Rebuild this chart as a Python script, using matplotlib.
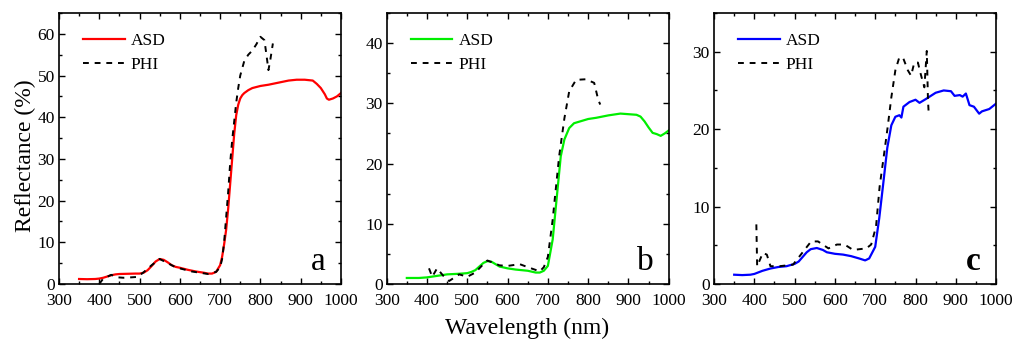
import numpy as np
import matplotlib
matplotlib.use("Agg")
import matplotlib.pyplot as plt
from matplotlib.ticker import MultipleLocator

plt.rcParams["font.family"] = ["Liberation Serif", "DejaVu Serif"]

# ─── data ────────────────────────────────────────────────────────────────────
asd_a_wl = [350, 370, 390, 400, 410, 420, 430, 440, 450, 470, 490, 500, 510, 520,
            530, 540, 550, 560, 570, 580, 590, 600, 620, 640, 660, 670, 680, 690,
            700, 705, 710, 715, 720, 725, 730, 735, 740, 745, 750, 755, 760, 770,
            780, 800, 820, 850, 870, 890, 910, 930, 940, 950, 960, 965, 970, 980,
            990, 1000]
asd_a = [1.2, 1.15, 1.2, 1.3, 1.5, 1.8, 2.1, 2.3, 2.4, 2.45, 2.5, 2.5, 2.7, 3.3,
         4.3, 5.4, 6.0, 5.8, 5.2, 4.5, 4.1, 3.9, 3.4, 3.0, 2.7, 2.5, 2.5, 2.9,
         4.5, 6.5, 9.5, 13.0, 18.0, 24.0, 30.0, 36.0, 40.5, 43.0, 44.5, 45.3, 45.8, 46.5,
         47.0, 47.5, 47.8, 48.4, 48.8, 49.0, 49.0, 48.8, 48.0, 47.0, 45.5, 44.5, 44.2, 44.5,
         45.0, 45.8]
phi_a_wl = [400, 410, 430, 445, 460, 480, 495, 510, 530, 550, 570, 590, 610, 630,
            650, 670, 690, 700, 705, 710, 715, 720, 725, 730, 735, 740, 745, 750,
            760, 770, 780, 790, 800, 810, 815, 820, 825, 831]
phi_a = [0.0, 1.3, 2.2, 1.6, 1.5, 1.6, 1.7, 2.8, 4.5, 6.0, 5.0, 4.0, 3.5, 3.0,
         2.7, 2.4, 2.9, 4.0, 6.0, 10.0, 16.0, 22.0, 29.0, 34.5, 39.0, 43.5, 47.0, 50.0,
         53.5, 55.0, 56.0, 57.5, 59.3, 58.5, 55.0, 51.3, 54.0, 57.7]

asd_b_wl = [350, 380, 400, 420, 450, 480, 500, 510, 520, 530, 540, 550, 560, 570,
            580, 600, 620, 650, 670, 680, 690, 700, 712, 724, 732, 741, 753, 765,
            780, 800, 820, 850, 880, 900, 920, 930, 940, 950, 960, 970, 980, 990, 1000]
asd_b = [1.0, 1.0, 1.1, 1.3, 1.6, 1.7, 1.8, 2.0, 2.3, 2.9, 3.5, 3.8, 3.7, 3.3,
         2.9, 2.6, 2.4, 2.2, 1.9, 1.9, 2.2, 3.0, 7.4, 15.7, 21.2, 24.0, 25.9, 26.7,
         27.0, 27.4, 27.6, 28.0, 28.3, 28.2, 28.1, 27.8, 27.0, 26.0, 25.1, 24.9, 24.6, 25.0, 25.5]
phi_b_wl = [405, 413, 425, 440, 455, 480, 500, 520, 540, 550, 580, 600, 630, 650,
            680, 690, 700, 712, 720, 728, 741, 753, 770, 794, 815, 825, 830]
phi_b = [2.6, 1.2, 2.6, 1.4, 0.5, 1.6, 1.2, 1.9, 3.3, 3.9, 3.1, 3.0, 3.3, 2.8,
         2.1, 2.8, 4.5, 10.7, 16.0, 21.2, 27.5, 32.0, 33.9, 34.0, 33.4, 30.6, 29.8]

asd_c_wl = [350, 370, 390, 400, 420, 440, 460, 480, 500, 510, 520, 530, 540, 555,
            570, 580, 600, 620, 640, 660, 675, 685, 692, 700, 710, 720, 730, 740,
            750, 760, 765, 770, 785, 800, 810, 826, 850, 870, 888, 897, 910, 917,
            925, 934, 945, 958, 965, 971, 983, 1000]
asd_c = [1.2, 1.15, 1.2, 1.3, 1.7, 2.0, 2.2, 2.3, 2.6, 2.9, 3.5, 4.1, 4.5, 4.65,
         4.4, 4.1, 3.9, 3.8, 3.6, 3.3, 3.05, 3.3, 4.0, 4.8, 8.5, 13.0, 17.6, 20.5,
         21.6, 21.8, 21.5, 22.9, 23.5, 23.8, 23.4, 23.9, 24.7, 25.0, 24.9, 24.3, 24.4, 24.2,
         24.6, 23.1, 22.9, 22.0, 22.3, 22.4, 22.6, 23.3]
phi_c_wl = [405, 407, 421, 431, 440, 463, 496, 508, 541, 558, 584, 605, 624, 645,
            678, 690, 702, 711, 721, 731, 740, 750, 760, 770, 781, 789, 797, 806,
            812, 822, 828, 831, 833]
phi_c = [7.7, 2.3, 4.0, 3.8, 2.3, 2.3, 2.5, 3.3, 5.5, 5.5, 4.6, 5.1, 5.1, 4.4,
         4.6, 5.1, 7.4, 12.6, 16.4, 20.3, 24.1, 27.6, 29.3, 29.1, 27.6, 26.9, 28.6, 28.6,
         27.3, 25.4, 30.1, 23.7, 21.8]

panels = [
    ("a", asd_a_wl, asd_a, phi_a_wl, phi_a, "#ff0000", 65, "normal"),
    ("b", asd_b_wl, asd_b, phi_b_wl, phi_b, "#00ee00", 45, "normal"),
    ("c", asd_c_wl, asd_c, phi_c_wl, phi_c, "#0000ff", 35, "bold"),
]

# ─── figure ──────────────────────────────────────────────────────────────────
fig = plt.figure(figsize=(10.16, 3.4), dpi=100)
lefts = [0.058, 0.3806, 0.7028]
width = 0.2776
bottom, height = 0.1647, 0.797

for left, (tag, aw, av, pw, pv, col, ymax, fw) in zip(lefts, panels):
    ax = fig.add_axes([left, bottom, width, height])
    ax.plot(aw, av, color=col, lw=1.6, label="ASD")
    ax.plot(pw, pv, color="black", lw=1.4, dashes=(3.0, 3.0), label="PHI")

    ax.set_xlim(300, 1000)
    ax.set_ylim(0, ymax)
    ax.xaxis.set_major_locator(MultipleLocator(100))
    ax.xaxis.set_minor_locator(MultipleLocator(50))
    ax.yaxis.set_major_locator(MultipleLocator(10))
    ax.yaxis.set_minor_locator(MultipleLocator(5))
    ax.tick_params(which="both", direction="in", top=True, right=True,
                   labelsize=12.5, width=1.0)
    ax.tick_params(axis="x", which="both", pad=6.5)
    ax.tick_params(axis="y", which="both", pad=3)
    ax.tick_params(which="major", length=4)
    ax.tick_params(which="minor", length=2)
    for sp in ax.spines.values():
        sp.set_linewidth(1.2)

    ax.legend(loc="upper left", bbox_to_anchor=(0.085, 0.925), frameon=False,
              fontsize=12.5, handlelength=2.4, handletextpad=0.35,
              labelspacing=0.45, borderpad=0, borderaxespad=0)
    ax.text(0.918, 0.052, tag, transform=ax.transAxes, ha="center",
            va="baseline", fontsize=24, fontweight=fw)

    if tag == "a":
        ax.set_ylabel("Reflectance (%)", fontsize=17, labelpad=1, y=0.475)

fig.text(0.519, 0.035, "Wavelength (nm)", ha="center", va="center", fontsize=17)

fig.savefig("out.png", dpi=100)
